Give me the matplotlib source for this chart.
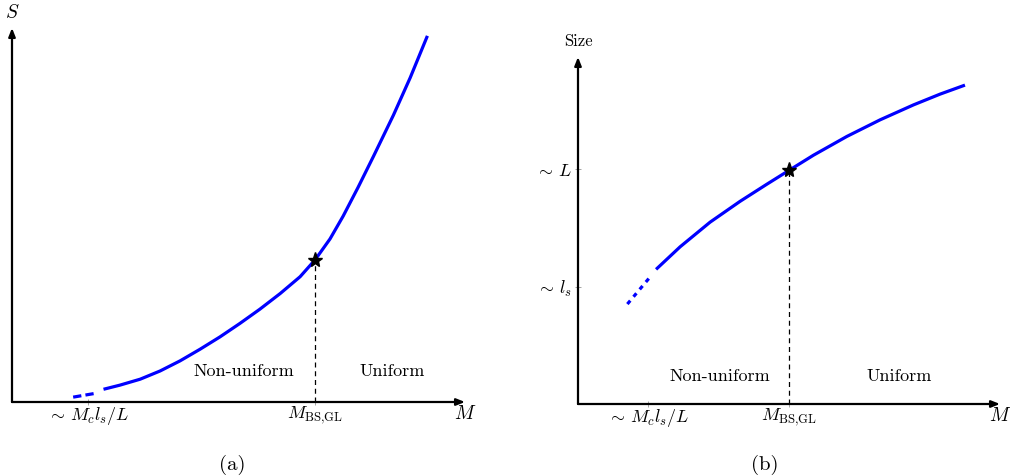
import matplotlib
matplotlib.use("Agg")
import matplotlib.pyplot as plt

plt.rcParams["font.family"] = "serif"
plt.rcParams["font.serif"] = ["cmr10"]
plt.rcParams["mathtext.fontset"] = "cm"
plt.rcParams["axes.formatter.use_mathtext"] = True

# panel (a): S vs M
a_dot_x = [1.35, 1.88]
a_dot_y = [0.13, 0.24]
a_x = [2.02, 2.38, 2.83, 3.27, 3.71, 4.15, 4.59, 5.03, 5.47, 5.92, 6.36, 6.69,
       7.02, 7.31, 7.64, 7.98, 8.42, 8.79, 9.17]
a_y = [0.34, 0.45, 0.61, 0.83, 1.10, 1.41, 1.74, 2.10, 2.48, 2.90, 3.35, 3.80,
       4.36, 4.97, 5.74, 6.57, 7.67, 8.67, 9.79]
a_star = (6.69, 3.80)
a_xticks = [1.68, 6.69]

# panel (b): Size vs M
b_dot_x = [1.17, 1.75]
b_dot_y = [2.88, 3.72]
b_x = [1.85, 2.42, 3.13, 3.84, 4.47, 5.01, 5.58, 6.37, 7.16, 7.95, 8.58, 9.17]
b_y = [3.88, 4.53, 5.24, 5.84, 6.33, 6.74, 7.17, 7.71, 8.19, 8.62, 8.93, 9.19]
b_star = (5.01, 6.74)
b_xticks = [1.67, 5.01]
b_yticks = [3.38, 6.76]

xtick_labels = [r"$\sim\,M_c l_s/L$", r"$M_{\rm BS{,}GL}$"]
ytick_labels = [r"$\sim\,l_s$", r"$\sim\,L$"]

W, H = 1010, 476
fig = plt.figure(figsize=(W / 100, H / 100), dpi=100)


def make_axes(left, right, bottom, top):
    ax = fig.add_axes([left / W, (H - bottom) / H, (right - left) / W, (bottom - top) / H])
    ax.set_xlim(0, 10)
    ax.set_ylim(0, 10)
    for s in ax.spines.values():
        s.set_visible(False)
    arrow = dict(arrowstyle="-|>,head_length=0.5,head_width=0.2", lw=1.6, color="black",
                 shrinkA=0, shrinkB=0)
    ax.annotate("", xy=(10, 0), xytext=(0, 0), arrowprops=arrow, annotation_clip=False)
    ax.annotate("", xy=(0, 10), xytext=(0, 0), arrowprops=arrow, annotation_clip=False)
    ax.tick_params(direction="inout", length=5, width=0.5, color="gray", labelsize=13, pad=-0.5)
    ax.tick_params(axis="y", pad=2)
    return ax


def draw_panel(ax, dx, dy, x, y, star, label_y, dash):
    ax.plot(dx, dy, color="blue", lw=2.3, linestyle=(0, dash), solid_capstyle="butt")
    ax.plot(x, y, color="blue", lw=2.3, solid_capstyle="butt", solid_joinstyle="round")
    ax.plot([star[0], star[0]], [0, star[1]], color="black", lw=0.9, linestyle=(0, (4, 3)))
    ax.plot(star[0], star[1], marker="*", color="black", markersize=11, zorder=5)
    ax.text(star[0] - 0.45, label_y, "Non-uniform", ha="right", va="center", fontsize=13)
    ax.text(star[0] + 0.45 + 1.7, label_y, "Uniform", ha="center", va="center", fontsize=13)


ax1 = make_axes(12, 465, 402, 28)
draw_panel(ax1, a_dot_x, a_dot_y, a_x, a_y, a_star, 0.82, (2.6, 1.3))
ax1.texts[-1].set_x(8.4)
ax1.set_xticks(a_xticks, xtick_labels)
ax1.set_yticks([])
ax1.text(10, -0.32, "$M$", ha="center", va="center", fontsize=14)
ax1.text(0, 10.4, "$S$", ha="center", va="center", fontsize=14)

ax2 = make_axes(578, 1000, 404, 57)
draw_panel(ax2, b_dot_x, b_dot_y, b_x, b_y, b_star, 0.8, (1.4, 1.6))
ax2.texts[-1].set_x(7.6)
ax2.set_xticks(b_xticks, xtick_labels)
ax2.set_yticks(b_yticks, ytick_labels)
ax2.text(10, -0.35, "$M$", ha="center", va="center", fontsize=14)
ax2.text(0, 10.45, "Size", ha="center", va="center", fontsize=12)

fig.text(232 / W, 1 - 465 / H, "(a)", ha="center", va="center", fontsize=15)
fig.text(765 / W, 1 - 465 / H, "(b)", ha="center", va="center", fontsize=15)

fig.savefig("out.png", dpi=100)
